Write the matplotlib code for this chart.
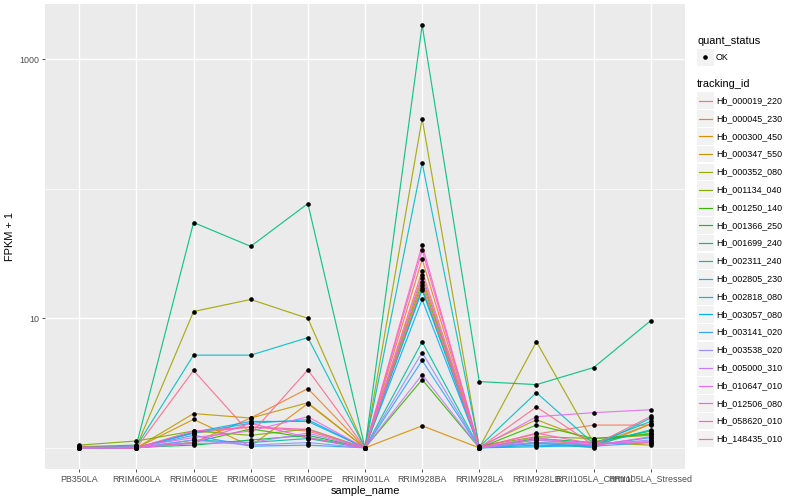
import numpy as np
import matplotlib
matplotlib.use("Agg")
import matplotlib.pyplot as plt
from matplotlib.patches import Rectangle
from matplotlib.lines import Line2D

plt.rcParams['font.family'] = ['Liberation Sans', 'DejaVu Sans']

samples = ["PB350LA", "RRIM600LA", "RRIM600LE", "RRIM600SE", "RRIM600PE", "RRIM901LA",
           "RRIM928BA", "RRIM928LA", "RRIM928LB", "RRII105LA_Control", "RRII105LA_Stressed"]

tracking_ids = ["Hb_000019_220", "Hb_000045_230", "Hb_000300_450", "Hb_000347_550",
                "Hb_000352_080", "Hb_001134_040", "Hb_001250_140", "Hb_001366_250",
                "Hb_001699_240", "Hb_002311_240", "Hb_002805_230", "Hb_002818_080",
                "Hb_003057_080", "Hb_003141_020", "Hb_003538_020", "Hb_005000_310",
                "Hb_010647_010", "Hb_012506_080", "Hb_058620_010", "Hb_148435_010"]

# ggplot default hue palette for 20 levels
colors = ["#F8766D", "#EA8331", "#D89000", "#C09B00", "#A3A500", "#7CAE00", "#39B600",
          "#00BB4E", "#00BF7D", "#00C1A3", "#00BFC4", "#00BAE0", "#00B0F6", "#35A2FF",
          "#9590FF", "#C77CFF", "#E76BF3", "#FA62DB", "#FF62BC", "#FF6C91"]

# FPKM + 1, one list per tracking_id
fpkm = [
    [1.02, 1.01, 1.30, 1.45, 1.35, 1.0, 23.2, 1.02, 1.28, 1.50, 1.50],
    [1.01, 1.00, 1.10, 1.70, 2.87, 1.0, 28.6, 1.00, 1.15, 1.05, 1.53],
    [1.03, 1.00, 1.66, 1.03, 2.20, 1.0, 1.48, 1.00, 1.10, 1.00, 1.53],
    [1.00, 1.00, 1.84, 1.70, 2.23, 1.0, 20.4, 1.02, 1.65, 1.12, 1.30],
    [1.00, 1.02, 11.3, 14.0, 10.0, 1.0, 349., 1.00, 6.60, 1.10, 1.05],
    [1.05, 1.13, 1.35, 1.25, 1.40, 1.0, 19.0, 1.03, 1.22, 1.18, 1.25],
    [1.00, 1.00, 1.10, 1.40, 1.20, 1.0, 3.37, 1.00, 1.50, 1.18, 1.28],
    [1.00, 1.01, 1.05, 1.15, 1.25, 1.0, 17.1, 1.00, 1.18, 1.10, 1.35],
    [1.02, 1.05, 55.0, 36.0, 77.0, 1.0, 1840, 3.25, 3.08, 4.17, 9.60],
    [1.00, 1.00, 1.15, 1.10, 1.18, 1.0, 6.60, 1.00, 1.10, 1.05, 1.38],
    [1.00, 1.03, 5.20, 5.20, 7.10, 1.0, 159., 1.02, 2.67, 1.08, 1.60],
    [1.00, 1.00, 1.30, 1.55, 1.65, 1.0, 16.5, 1.00, 1.05, 1.02, 1.70],
    [1.00, 1.00, 1.32, 1.60, 1.60, 1.0, 14.0, 1.00, 1.02, 1.05, 1.20],
    [1.00, 1.00, 1.25, 1.03, 1.05, 1.0, 4.73, 1.00, 1.08, 1.03, 1.10],
    [1.00, 1.00, 1.15, 1.05, 1.10, 1.0, 5.45, 1.00, 1.10, 1.06, 1.15],
    [1.00, 1.00, 1.08, 1.10, 1.30, 1.0, 3.68, 1.00, 1.15, 1.08, 1.12],
    [1.00, 1.02, 1.20, 1.35, 1.74, 1.0, 21.5, 1.00, 1.74, 1.87, 1.97],
    [1.00, 1.00, 1.10, 1.55, 1.20, 1.0, 33.6, 1.00, 1.20, 1.04, 1.22],
    [1.01, 1.00, 1.35, 1.45, 1.39, 1.0, 36.8, 1.00, 1.30, 1.07, 1.10],
    [1.02, 1.00, 3.96, 1.28, 4.00, 1.0, 18.0, 1.00, 2.07, 1.05, 1.75],
]

W, H = 800, 500
fig = plt.figure(figsize=(W / 100, H / 100), dpi=100)
ax = fig.add_axes([45 / W, 1 - 469 / H, 640 / W, 465 / H])
ax.set_facecolor("#EBEBEB")
for s in ax.spines.values():
    s.set_visible(False)

x = np.arange(1, len(samples) + 1)
for vals, c in zip(fpkm, colors):
    ax.plot(x, vals, color=c, lw=0.85, alpha=0.9, zorder=2)
for vals in fpkm:
    ax.plot(x, vals, 'o', color="black", ms=2.3, zorder=3)

ax.set_yscale("log")
allv = np.log10(np.array(fpkm))
lo, hi = allv.min(), allv.max()
pad = (hi - lo) * 0.05
ax.set_ylim(10 ** (lo - pad), 10 ** (hi + pad))
ax.set_xlim(0.4, len(samples) + 0.6)

ax.set_yticks([10, 1000])
ax.set_yticklabels(["10", "1000"])
ax.set_yticks([1, 100], minor=True)
ax.yaxis.set_minor_formatter(plt.NullFormatter())
ax.set_xticks(x)
ax.set_xticklabels(samples)

ax.grid(True, which="major", color="white", lw=1.0, zorder=0)
ax.grid(True, which="minor", axis="y", color="white", lw=0.5, zorder=0)
ax.set_axisbelow(True)
ax.tick_params(axis="both", which="major", length=2.5, width=0.6, color="#333333",
               labelsize=6.4, labelcolor="#4D4D4D", pad=1.5)
ax.tick_params(axis="y", which="minor", length=0)

ax.set_xlabel("sample_name", fontsize=7.9, labelpad=2)
ax.set_ylabel("FPKM + 1", fontsize=7.9, labelpad=3)

# legends
def fx(px):
    return px / W

def fy(py):
    return 1 - py / H

fig.text(fx(697), fy(40.5), "quant_status", fontsize=7.9, va="center", ha="left")
fig.patches.append(Rectangle((fx(697), fy(65.5)), 16.5 / W, 16.5 / H,
                             transform=fig.transFigure, facecolor="#F2F2F2", edgecolor="none"))
fig.lines.append(Line2D([fx(705.2)], [fy(57.2)], marker="o", ms=2.3, color="black",
                        transform=fig.transFigure))
fig.text(fx(716), fy(57.2), "OK", fontsize=6.4, va="center", ha="left")

fig.text(fx(697), fy(84), "tracking_id", fontsize=7.9, va="center", ha="left")
for i, (tid, c) in enumerate(zip(tracking_ids, colors)):
    cy = 100.7 + i * 17.8
    fig.patches.append(Rectangle((fx(697), fy(cy + 8.3)), 16.5 / W, 16.6 / H,
                                 transform=fig.transFigure, facecolor="#F2F2F2",
                                 edgecolor="none"))
    fig.lines.append(Line2D([fx(698.5), fx(712)], [fy(cy), fy(cy)], color=c, lw=0.85,
                            transform=fig.transFigure))
    fig.text(fx(716), fy(cy), tid, fontsize=6.4, va="center", ha="left")

fig.savefig("out.png", dpi=100)
